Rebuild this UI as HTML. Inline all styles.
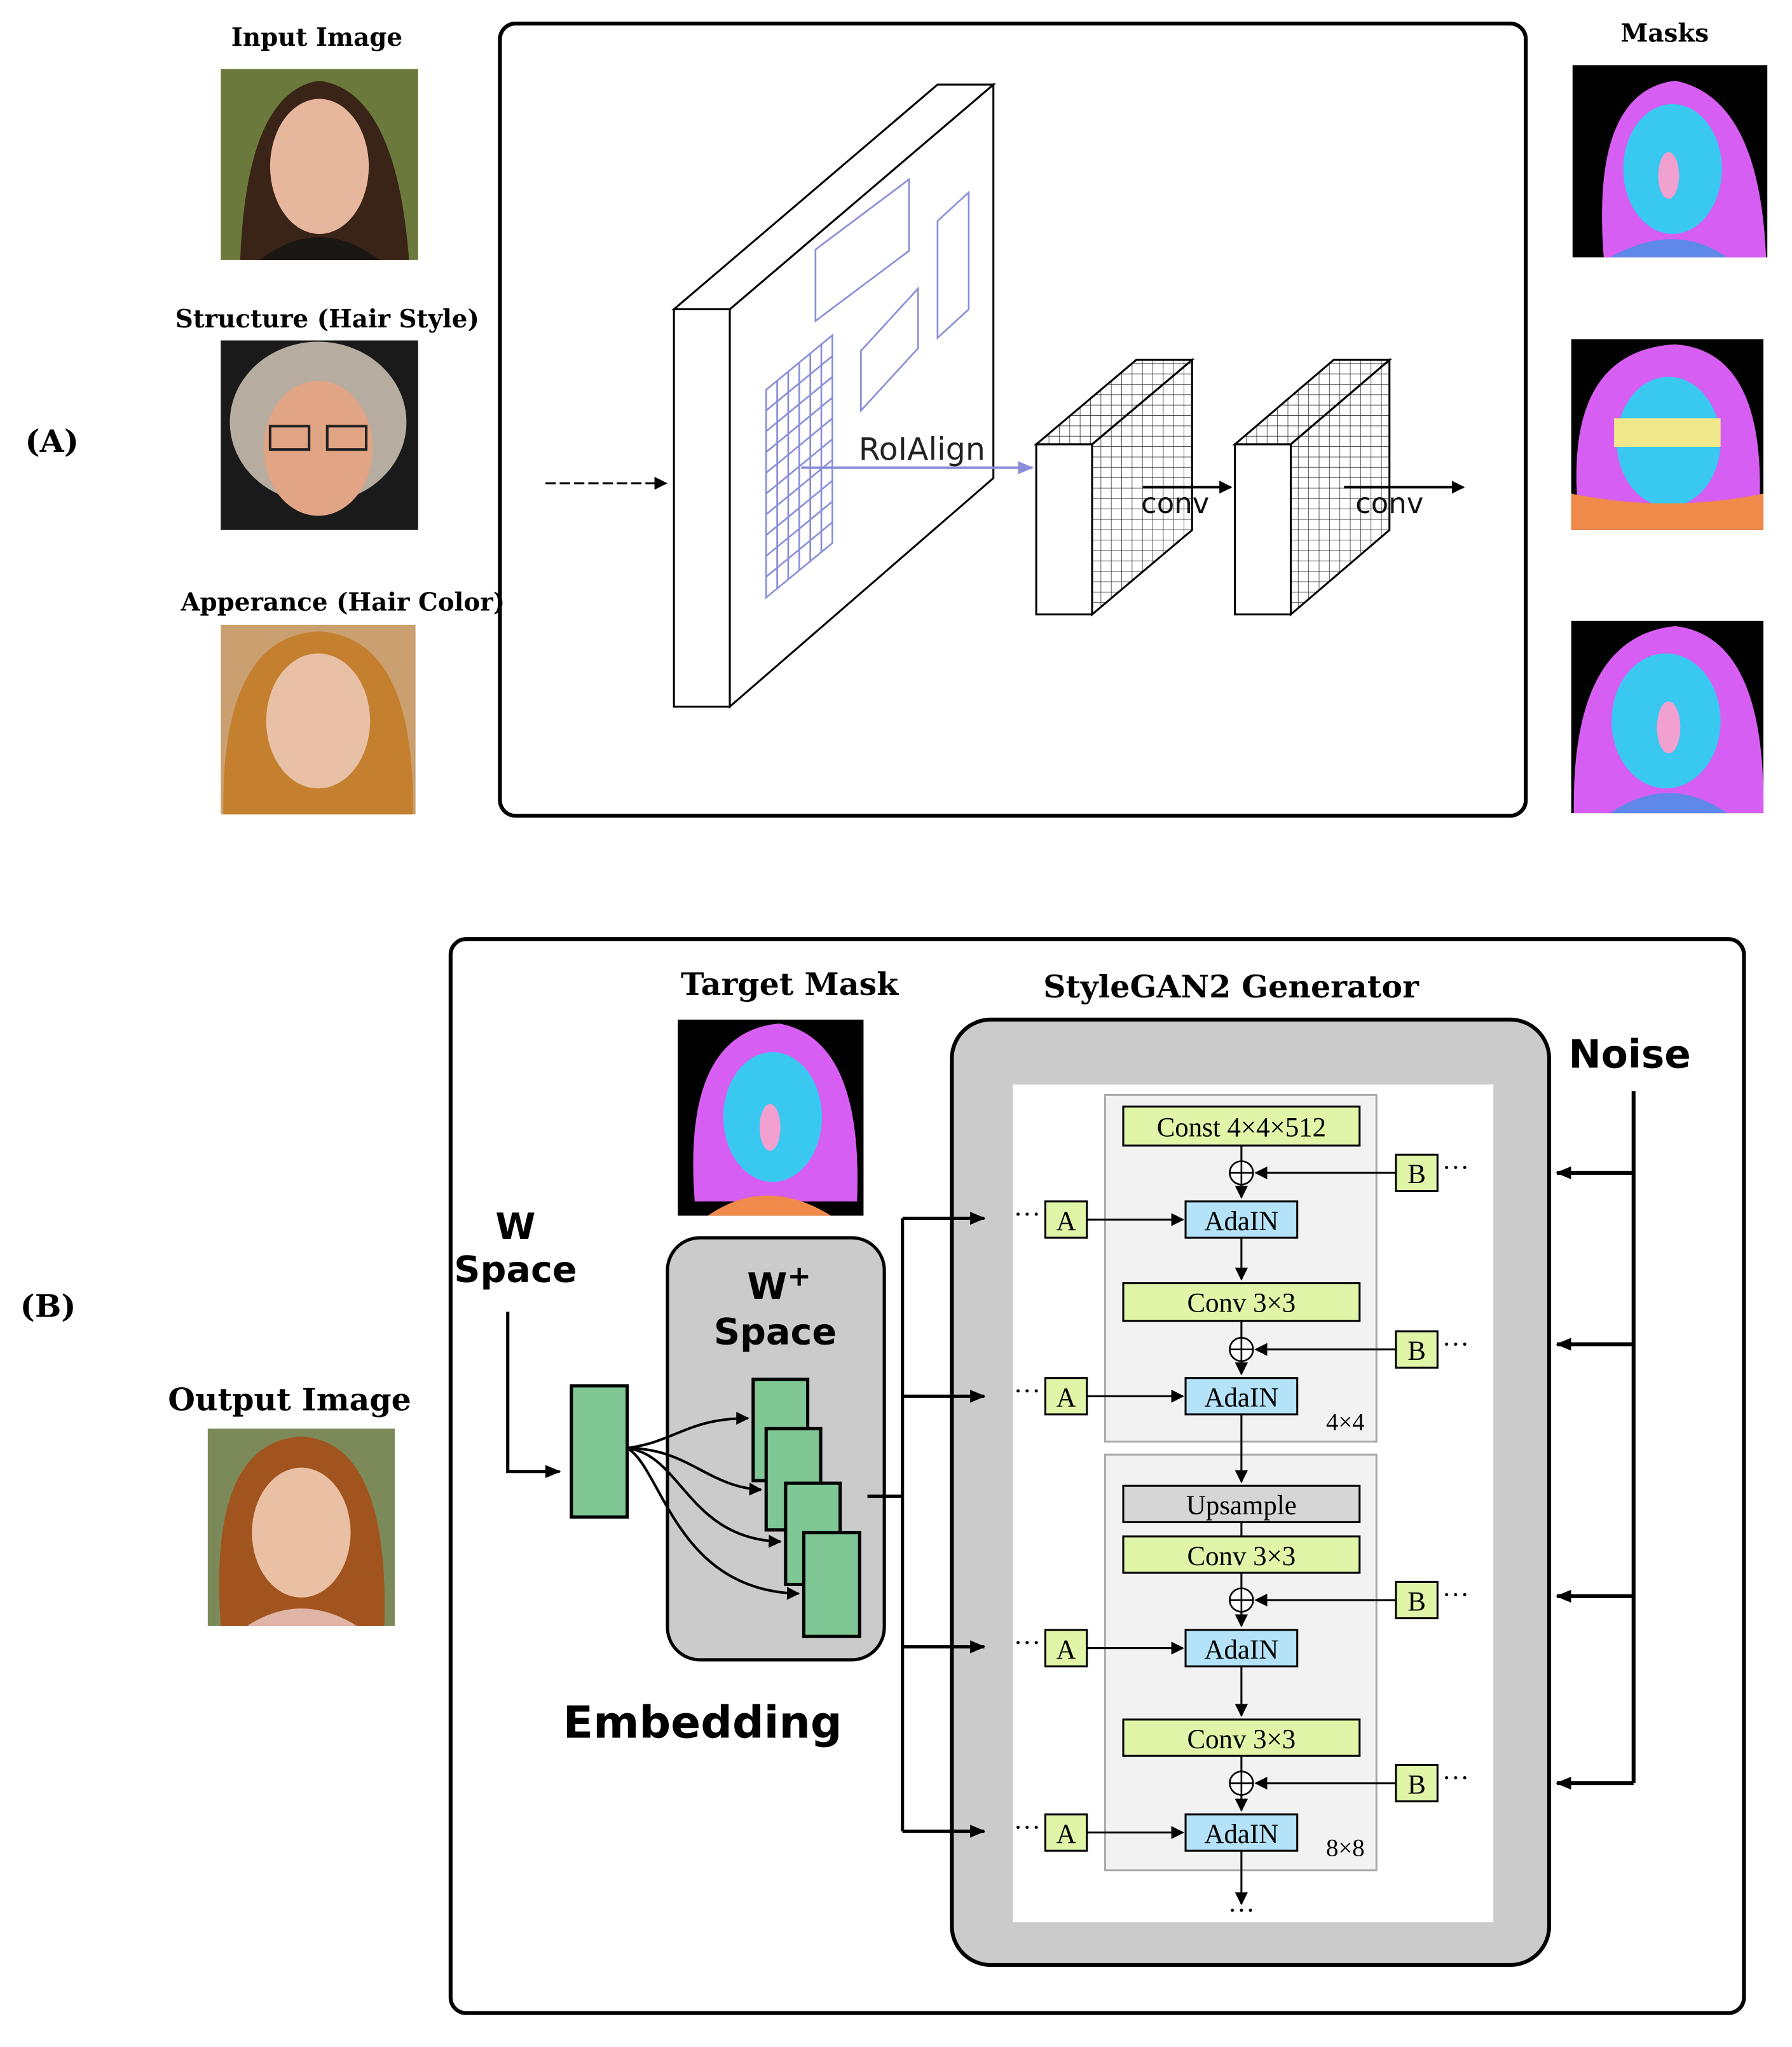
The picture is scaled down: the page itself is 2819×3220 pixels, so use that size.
<!DOCTYPE html>
<html><head><meta charset="utf-8"><style>html,body{margin:0;padding:0;background:#fff}svg{display:block}</style></head>
<body>
<svg xmlns="http://www.w3.org/2000/svg" width="2819" height="3220" viewBox="0 0 1380 1576">
<defs>
<marker id="ah" markerWidth="10" markerHeight="10" refX="9" refY="5" orient="auto" markerUnits="userSpaceOnUse"><path d="M0,0 L10,5 L0,10 Z" fill="#000"/></marker>
<marker id="ahb" markerWidth="12" markerHeight="12" refX="11" refY="6" orient="auto" markerUnits="userSpaceOnUse"><path d="M0,1 L12,6 L0,11 Z" fill="#000"/></marker>
<marker id="ahblue" markerWidth="12" markerHeight="10" refX="11" refY="5" orient="auto" markerUnits="userSpaceOnUse"><path d="M0,0 L12,5 L0,10 Z" fill="#8a8ed8"/></marker>
<pattern id="grid" width="8" height="8" patternUnits="userSpaceOnUse"><path d="M8 0V8M0 8H8" stroke="#333" stroke-width="0.8" fill="none"/></pattern>
</defs>
<style>
.ser{font-family:"DejaVu Serif","Liberation Serif",serif;font-weight:bold}
.san{font-family:"DejaVu Sans","Liberation Sans",sans-serif;font-weight:bold}
.tm{font-family:"Liberation Serif",serif;font-size:21px}
</style>

<!-- ===== (A) ===== -->
<text class="ser" x="244" y="35" font-size="19" text-anchor="middle">Input Image</text>
<g>
<rect x="170" y="53" width="152" height="147" fill="#6b7a3c"/>
<path d="M185 200 Q190 70 246 62 Q305 70 315 200Z" fill="#3a2418"/>
<ellipse cx="246" cy="128" rx="38" ry="52" fill="#e7b79d"/>
<path d="M200 200 Q246 165 292 200Z" fill="#1a1614"/>
</g>
<text class="ser" x="252" y="252" font-size="19" text-anchor="middle">Structure (Hair Style)</text>
<g>
<rect x="170" y="262" width="152" height="146" fill="#1a1a1a"/>
<ellipse cx="245" cy="325" rx="68" ry="62" fill="#b6aca0"/>
<ellipse cx="245" cy="345" rx="42" ry="52" fill="#e1a585"/>
<rect x="208" y="328" width="30" height="18" fill="none" stroke="#222" stroke-width="2"/>
<rect x="252" y="328" width="30" height="18" fill="none" stroke="#222" stroke-width="2"/>
</g>
<text class="ser" x="264" y="470" font-size="19" text-anchor="middle">Apperance (Hair Color)</text>
<g>
<rect x="170" y="481" width="150" height="146" fill="#caa070"/>
<path d="M172 627 Q170 490 245 486 Q320 490 318 627Z" fill="#c4802f"/>
<ellipse cx="245" cy="555" rx="40" ry="52" fill="#e8c0a6"/>
</g>
<text class="ser" x="40" y="348" font-size="24" text-anchor="middle">(A)</text>

<rect x="385" y="18" width="790" height="610" rx="12" fill="none" stroke="#000" stroke-width="3"/>

<!-- big block -->
<polygon points="562,238 765,65 765,368 562,544" fill="#fff" stroke="#000" stroke-width="1.5"/>
<polygon points="519,238 562,238 765,65 722,65" fill="#fff" stroke="#000" stroke-width="1.5"/>
<rect x="519" y="238" width="43" height="306" fill="#fff" stroke="#000" stroke-width="1.5"/>
<g stroke="#8a8ed8" stroke-width="1.3" fill="none">
<polygon points="590,300 641,258 641,418 590,460"/>
<path d="M598.5,293 V453 M607,286 V446 M615.5,279 V439 M624,272 V432 M632.5,265 V425"/>
<path d="M590,316 L641,274 M590,332 L641,290 M590,348 L641,306 M590,364 L641,322 M590,380 L641,338 M590,396 L641,354 M590,412 L641,370 M590,428 L641,386 M590,444 L641,402"/>
<polygon points="628,192 700,138 700,193 628,247"/>
<polygon points="663,270 707,222 707,268 663,316"/>
<polygon points="722,170 746,148 746,238 722,260"/>
</g>
<line x1="617" y1="360" x2="795" y2="360" stroke="#8a8ed8" stroke-width="2" marker-end="url(#ahblue)"/>
<text x="710" y="354" font-family="DejaVu Sans,sans-serif" font-size="24" text-anchor="middle" fill="#222">RoIAlign</text>
<line x1="420" y1="372" x2="513" y2="372" stroke="#000" stroke-width="1.5" stroke-dasharray="8,3" marker-end="url(#ah)"/>

<!-- small blocks -->
<g stroke="#000" stroke-width="1.5">
<polygon points="841,342 918,277 918,408 841,473" fill="url(#grid)"/>
<polygon points="798,342 841,342 918,277 875,277" fill="url(#grid)"/>
<rect x="798" y="342" width="43" height="131" fill="#fff"/>
<polygon points="994,342 1070,277 1070,408 994,473" fill="url(#grid)"/>
<polygon points="951,342 994,342 1070,277 1027,277" fill="url(#grid)"/>
<rect x="951" y="342" width="43" height="131" fill="#fff"/>
</g>
<line x1="880" y1="375" x2="948" y2="375" stroke="#000" stroke-width="2" marker-end="url(#ah)"/>
<line x1="1035" y1="375" x2="1127" y2="375" stroke="#000" stroke-width="2" marker-end="url(#ah)"/>
<text x="905" y="395" font-family="DejaVu Sans,sans-serif" font-size="22" text-anchor="middle" fill="#111">conv</text>
<text x="1070" y="395" font-family="DejaVu Sans,sans-serif" font-size="22" text-anchor="middle" fill="#111">conv</text>

<!-- masks -->
<text class="ser" x="1282" y="32" font-size="19" text-anchor="middle">Masks</text>
<g>
<rect x="1211" y="50" width="150" height="148" fill="#000"/>
<path d="M1235 198 Q1225 70 1290 62 Q1355 75 1360 198Z" fill="#d75ef2"/>
<ellipse cx="1288" cy="130" rx="38" ry="50" fill="#39c8f0"/>
<path d="M1240 198 Q1290 170 1330 198Z" fill="#5e89e8"/>
<ellipse cx="1285" cy="135" rx="8" ry="18" fill="#f2a0d0"/>
</g>
<g>
<rect x="1210" y="261" width="148" height="147" fill="#000"/>
<path d="M1215 390 Q1205 270 1290 265 Q1360 270 1355 390Z" fill="#d75ef2"/>
<ellipse cx="1285" cy="340" rx="40" ry="50" fill="#39c8f0"/>
<rect x="1243" y="322" width="82" height="22" fill="#f0e88a"/>
<path d="M1210 408 L1210 380 Q1285 395 1358 380 L1358 408Z" fill="#f08a4a"/>
</g>
<g>
<rect x="1210" y="478" width="148" height="148" fill="#000"/>
<path d="M1212 626 Q1210 490 1290 482 Q1360 490 1358 626Z" fill="#d75ef2"/>
<ellipse cx="1283" cy="555" rx="42" ry="52" fill="#39c8f0"/>
<ellipse cx="1285" cy="560" rx="9" ry="20" fill="#f2a0d0"/>
<path d="M1240 626 Q1285 595 1330 626Z" fill="#5e89e8"/>
</g>

<!-- ===== (B) ===== -->
<text class="ser" x="37" y="1014" font-size="24" text-anchor="middle">(B)</text>
<text class="ser" x="223" y="1086" font-size="24" text-anchor="middle">Output Image</text>
<g>
<rect x="160" y="1100" width="144" height="152" fill="#7c8a5a"/>
<path d="M170 1252 Q160 1110 232 1106 Q300 1110 296 1252Z" fill="#a2541e"/>
<ellipse cx="232" cy="1180" rx="38" ry="50" fill="#eac0a4"/>
<path d="M190 1252 Q232 1225 275 1252Z" fill="#e0b5a8"/>
</g>

<rect x="347" y="723" width="996" height="827" rx="12" fill="none" stroke="#000" stroke-width="3"/>
<text class="ser" x="608" y="766" font-size="24" text-anchor="middle">Target Mask</text>
<g>
<rect x="522" y="785" width="143" height="151" fill="#000"/>
<path d="M535 925 Q525 795 600 788 Q665 800 660 925Z" fill="#d75ef2"/>
<ellipse cx="595" cy="860" rx="38" ry="50" fill="#39c8f0"/>
<ellipse cx="593" cy="868" rx="8" ry="18" fill="#f2a0d0"/>
<path d="M545 936 Q590 905 640 936Z" fill="#f08a4a"/>
</g>
<text class="ser" x="948" y="768" font-size="24" text-anchor="middle">StyleGAN2 Generator</text>

<rect x="733" y="785" width="460" height="728" rx="30" fill="#cbcbcb" stroke="#000" stroke-width="3"/>
<rect x="780" y="835" width="370" height="645" fill="#fff"/>
<text class="san" x="1255" y="822" font-size="30" text-anchor="middle">Noise</text>

<!-- noise lines -->
<line x1="1258" y1="840" x2="1258" y2="1373" stroke="#000" stroke-width="3"/>
<g stroke="#000" stroke-width="3">
<line x1="1258" y1="903" x2="1199" y2="903" marker-end="url(#ahb)"/>
<line x1="1258" y1="1035" x2="1199" y2="1035" marker-end="url(#ahb)"/>
<line x1="1258" y1="1229" x2="1199" y2="1229" marker-end="url(#ahb)"/>
<line x1="1258" y1="1373" x2="1199" y2="1373" marker-end="url(#ahb)"/>
</g>

<!-- W space -->
<text class="san" x="397" y="954" font-size="28" text-anchor="middle">W</text>
<text class="san" x="397" y="987" font-size="28" text-anchor="middle">Space</text>
<polyline points="391,1010 391,1133 431,1133" fill="none" stroke="#000" stroke-width="2.5" marker-end="url(#ahb)"/>
<rect x="440" y="1067" width="43" height="101" fill="#7fc794" stroke="#000" stroke-width="2.5"/>
<rect x="514" y="953" width="167" height="325" rx="25" fill="#cbcbcb" stroke="#000" stroke-width="2.5"/>
<text class="san" x="600" y="1000" font-size="28" text-anchor="middle">W<tspan dy="-10" font-size="22">+</tspan></text>
<text class="san" x="597" y="1035" font-size="28" text-anchor="middle">Space</text>
<g fill="#7fc794" stroke="#000" stroke-width="2.5">
<rect x="580" y="1062" width="42" height="78"/>
<rect x="590" y="1100" width="42" height="78"/>
<rect x="605" y="1142" width="42" height="78"/>
<rect x="619" y="1180" width="43" height="80"/>
</g>
<g fill="none" stroke="#000" stroke-width="2">
<path d="M483 1115 C520 1110 530 1092 576 1092" marker-end="url(#ah)"/>
<path d="M483 1115 C530 1115 545 1145 586 1147" marker-end="url(#ah)"/>
<path d="M483 1115 C525 1120 530 1185 601 1187" marker-end="url(#ah)"/>
<path d="M483 1115 C510 1130 520 1225 615 1227" marker-end="url(#ah)"/>
</g>
<text class="san" x="541" y="1338" font-size="34" text-anchor="middle">Embedding</text>

<!-- W+ to generator -->
<line x1="668" y1="1152" x2="695" y2="1152" stroke="#000" stroke-width="2.5"/>
<line x1="695" y1="938" x2="695" y2="1410" stroke="#000" stroke-width="2.5"/>
<g stroke="#000" stroke-width="2.5">
<line x1="695" y1="938" x2="758" y2="938" marker-end="url(#ahb)"/>
<line x1="695" y1="1075" x2="758" y2="1075" marker-end="url(#ahb)"/>
<line x1="695" y1="1268" x2="758" y2="1268" marker-end="url(#ahb)"/>
<line x1="695" y1="1410" x2="758" y2="1410" marker-end="url(#ahb)"/>
</g>

<!-- generator internals -->
<rect x="851" y="843" width="209" height="267" fill="#f2f2f2" stroke="#aaa" stroke-width="1.5"/>
<rect x="851" y="1120" width="209" height="320" fill="#f2f2f2" stroke="#aaa" stroke-width="1.5"/>
<g stroke="#000" stroke-width="1.5" fill="none">
<line x1="956" y1="882" x2="956" y2="922" marker-end="url(#ah)"/>
<line x1="956" y1="953" x2="956" y2="985" marker-end="url(#ah)"/>
<line x1="956" y1="1017" x2="956" y2="1058" marker-end="url(#ah)"/>
<line x1="956" y1="1089" x2="956" y2="1141" marker-end="url(#ah)"/>
<line x1="956" y1="1172" x2="956" y2="1183"/>
<line x1="956" y1="1211" x2="956" y2="1252" marker-end="url(#ah)"/>
<line x1="956" y1="1283" x2="956" y2="1321" marker-end="url(#ah)"/>
<line x1="956" y1="1352" x2="956" y2="1394" marker-end="url(#ah)"/>
<line x1="956" y1="1425" x2="956" y2="1466" marker-end="url(#ah)"/>
<line x1="1075" y1="903" x2="967" y2="903" marker-end="url(#ah)"/>
<line x1="1075" y1="1039" x2="967" y2="1039" marker-end="url(#ah)"/>
<line x1="1075" y1="1232" x2="967" y2="1232" marker-end="url(#ah)"/>
<line x1="1075" y1="1373" x2="967" y2="1373" marker-end="url(#ah)"/>
<line x1="837" y1="939" x2="911" y2="939" marker-end="url(#ah)"/>
<line x1="837" y1="1075" x2="911" y2="1075" marker-end="url(#ah)"/>
<line x1="837" y1="1269" x2="911" y2="1269" marker-end="url(#ah)"/>
<line x1="837" y1="1411" x2="911" y2="1411" marker-end="url(#ah)"/>
</g>
<g fill="#fff" stroke="#000" stroke-width="1.3">
<circle cx="956" cy="903" r="9"/><circle cx="956" cy="1039" r="9"/><circle cx="956" cy="1232" r="9"/><circle cx="956" cy="1373" r="9"/>
</g>
<g stroke="#000" stroke-width="1.3">
<path d="M947 903H965M956 894V912M947 1039H965M956 1030V1048M947 1232H965M956 1223V1241M947 1373H965M956 1364V1382"/>
</g>
<g stroke="#000" stroke-width="1.5">
<rect x="865" y="852" width="182" height="30" fill="#e0f5a8"/>
<rect x="865" y="988" width="182" height="29" fill="#e0f5a8"/>
<rect x="865" y="1144" width="182" height="28" fill="#d6d6d6"/>
<rect x="865" y="1183" width="182" height="28" fill="#e0f5a8"/>
<rect x="865" y="1324" width="182" height="28" fill="#e0f5a8"/>
<rect x="913" y="925" width="86" height="28" fill="#b4e2f8"/>
<rect x="913" y="1061" width="86" height="28" fill="#b4e2f8"/>
<rect x="913" y="1255" width="86" height="28" fill="#b4e2f8"/>
<rect x="913" y="1397" width="86" height="28" fill="#b4e2f8"/>
<rect x="805" y="925" width="32" height="28" fill="#e0f5a8"/>
<rect x="805" y="1061" width="32" height="28" fill="#e0f5a8"/>
<rect x="805" y="1255" width="32" height="28" fill="#e0f5a8"/>
<rect x="805" y="1397" width="32" height="28" fill="#e0f5a8"/>
<rect x="1075" y="889" width="32" height="28" fill="#e0f5a8"/>
<rect x="1075" y="1025" width="32" height="28" fill="#e0f5a8"/>
<rect x="1075" y="1218" width="32" height="28" fill="#e0f5a8"/>
<rect x="1075" y="1359" width="32" height="28" fill="#e0f5a8"/>
</g>
<g class="tm" text-anchor="middle">
<text x="956" y="875">Const 4×4×512</text>
<text x="956" y="1010">Conv 3×3</text>
<text x="956" y="1166">Upsample</text>
<text x="956" y="1205">Conv 3×3</text>
<text x="956" y="1346">Conv 3×3</text>
<text x="956" y="947">AdaIN</text>
<text x="956" y="1083">AdaIN</text>
<text x="956" y="1277">AdaIN</text>
<text x="956" y="1419">AdaIN</text>
<text x="821" y="947">A</text><text x="821" y="1083">A</text><text x="821" y="1277">A</text><text x="821" y="1419">A</text>
<text x="1091" y="911">B</text><text x="1091" y="1047">B</text><text x="1091" y="1240">B</text><text x="1091" y="1381">B</text>
<text x="1036" y="1101" font-size="19">4×4</text>
<text x="1036" y="1429" font-size="19">8×8</text>
</g>
<g class="tm" font-size="16" text-anchor="middle">
<text x="791" y="942">···</text><text x="791" y="1078">···</text><text x="791" y="1272">···</text><text x="791" y="1414">···</text>
<text x="1121" y="906">···</text><text x="1121" y="1042">···</text><text x="1121" y="1235">···</text><text x="1121" y="1376">···</text>
<text x="956" y="1478">···</text>
</g>
</svg>
</body></html>
